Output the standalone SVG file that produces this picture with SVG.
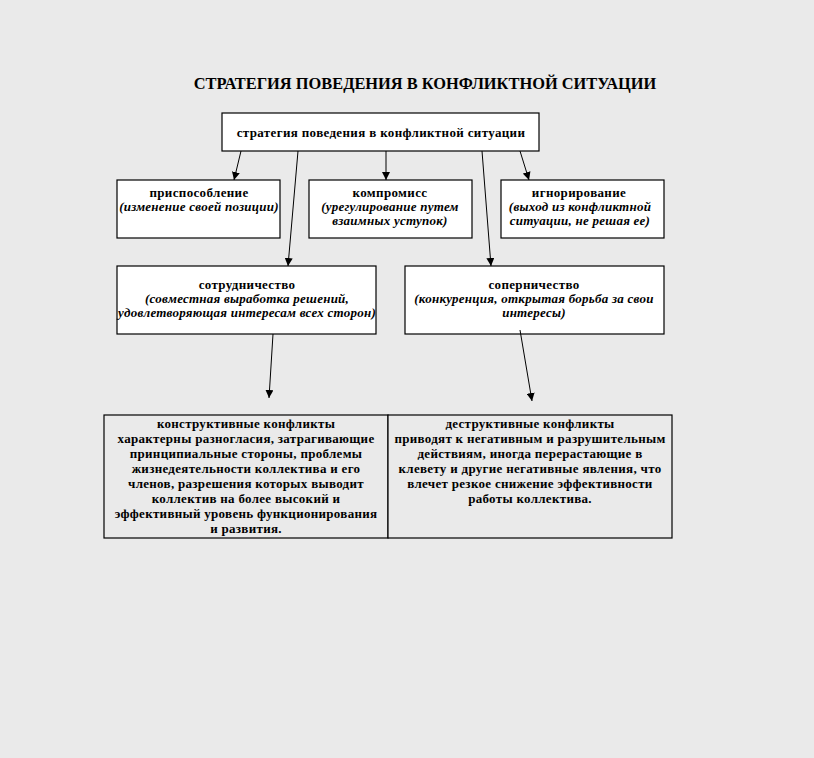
<svg xmlns="http://www.w3.org/2000/svg" width="814" height="758" viewBox="0 0 814 758">
<style>
.bg{fill:#eaeaea}
.box{fill:#ffffff;stroke:#000;stroke-width:1.2}
.tbl{fill:#eaeaea;stroke:#000;stroke-width:1.2}
text{font-family:"Liberation Serif","DejaVu Serif",serif;fill:#000;text-anchor:middle}
.title{font-size:16.4px;font-weight:bold}
.b{font-size:13px;font-weight:bold;letter-spacing:0.35px}
.i{font-size:13px;font-style:italic;font-weight:bold;letter-spacing:0.25px}
.t{font-size:13px;font-weight:bold;letter-spacing:0.3px}
.con line{stroke:#000;stroke-width:1}
</style>
<defs>
<marker id="ah" viewBox="0 0 10 10" refX="10" refY="5" markerWidth="8" markerHeight="8" markerUnits="userSpaceOnUse" orient="auto">
<path d="M0,0 L10,5 L0,10 z" fill="#000"/>
</marker>
</defs>
<rect class="bg" x="0" y="0" width="814" height="758"/>
<text class="title" x="425" y="89">СТРАТЕГИЯ ПОВЕДЕНИЯ В КОНФЛИКТНОЙ СИТУАЦИИ</text>
<g id="root">
<rect class="box" x="222" y="113" width="317" height="38"/>
<text class="b" x="381" y="137">стратегия поведения в конфликтной ситуации</text>
</g>
<g id="prisposoblenie">
<rect class="box" x="117" y="180" width="163" height="58"/>
<text class="b" x="199" y="197">приспособление</text>
<text class="i" x="199" y="211">(изменение  своей позиции)</text>
</g>
<g id="kompromiss">
<rect class="box" x="309" y="180" width="163" height="58"/>
<text class="b" x="390" y="197">компромисс</text>
<text class="i" x="390" y="211">(урегулирование путем</text>
<text class="i" x="390" y="225">взаимных уступок)</text>
</g>
<g id="ignorirovanie">
<rect class="box" x="501" y="180" width="163" height="58"/>
<text class="b" x="579" y="197">игнорирование</text>
<text class="i" x="580" y="211">(выход из конфликтной</text>
<text class="i" x="580" y="225">ситуации, не решая ее)</text>
</g>
<g id="sotrudnichestvo">
<rect class="box" x="117" y="266" width="259" height="68"/>
<text class="b" x="247" y="289">сотрудничество</text>
<text class="i" x="247" y="303">(совместная выработка решений,</text>
<text class="i" x="247" y="317">удовлетворяющая интересам всех сторон)</text>
</g>
<g id="sopernichestvo">
<rect class="box" x="405" y="266" width="259" height="68"/>
<text class="b" x="534" y="289">соперничество</text>
<text class="i" x="534" y="303">(конкуренция, открытая борьба за свои</text>
<text class="i" x="534" y="317">интересы)</text>
</g>
<g id="konstruktivnye">
<rect class="tbl" x="104" y="415" width="284" height="123"/>
<text class="t" x="246" y="428">конструктивные конфликты</text>
<text class="t" x="246" y="443">характерны разногласия, затрагивающие</text>
<text class="t" x="246" y="458">принципиальные стороны, проблемы</text>
<text class="t" x="246" y="473">жизнедеятельности коллектива и его</text>
<text class="t" x="246" y="488">членов, разрешения которых выводит</text>
<text class="t" x="246" y="503">коллектив на более высокий и</text>
<text class="t" x="246" y="518">эффективный уровень функционирования</text>
<text class="t" x="246" y="533">и развития.</text>
</g>
<g id="destruktivnye">
<rect class="tbl" x="388" y="415" width="284" height="123"/>
<text class="t" x="530" y="428">деструктивные конфликты</text>
<text class="t" x="530" y="443">приводят к негативным и разрушительным</text>
<text class="t" x="530" y="458">действиям, иногда перерастающие в</text>
<text class="t" x="530" y="473">клевету и другие негативные явления, что</text>
<text class="t" x="530" y="488">влечет резкое снижение эффективности</text>
<text class="t" x="530" y="503">работы коллектива.</text>
</g>
<g id="connectors" class="con">
<line x1="241" y1="151" x2="234" y2="180" marker-end="url(#ah)"/>
<line x1="298" y1="151" x2="288" y2="266" marker-end="url(#ah)"/>
<line x1="386" y1="151" x2="386" y2="180" marker-end="url(#ah)"/>
<line x1="482" y1="151" x2="491" y2="266" marker-end="url(#ah)"/>
<line x1="520" y1="151" x2="529" y2="180" marker-end="url(#ah)"/>
<line x1="273" y1="334" x2="269" y2="398" marker-end="url(#ah)"/>
<line x1="520" y1="330" x2="532" y2="401" marker-end="url(#ah)"/>
</g>
</svg>
